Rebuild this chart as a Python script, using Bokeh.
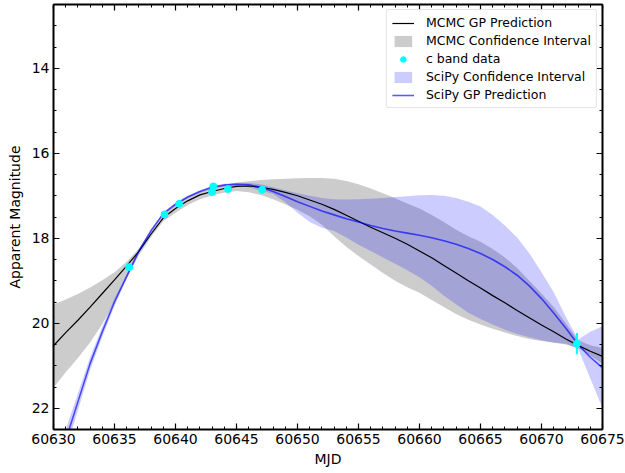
from bokeh.plotting import figure
from bokeh.models import (Range1d, LinearAxis, SingleIntervalTicker, Legend,
                          LegendItem, ColumnDataSource, BasicTickFormatter,
                          CustomJSTickFormatter)
from bokeh.embed import file_html
from bokeh.resources import INLINE

# ---------------- data ----------------
mjd_grid = [60630, 60631, 60632, 60633, 60634, 60635, 60636, 60637, 60638, 60639,
            60640, 60641, 60642, 60643, 60644, 60645, 60646, 60647, 60648, 60649,
            60650, 60651, 60652, 60653, 60654, 60655, 60656, 60657, 60658, 60659,
            60660, 60661, 60662, 60663, 60664, 60665, 60666, 60667, 60668, 60669,
            60670, 60671, 60672, 60673, 60674, 60675]

mcmc_mean = [20.53, 20.22, 19.93, 19.62, 19.30, 18.98, 18.65, 18.31, 17.90, 17.52,
             17.30, 17.12, 16.98, 16.90, 16.83, 16.78, 16.77, 16.80, 16.85, 16.92,
             17.00, 17.10, 17.20, 17.32, 17.46, 17.60, 17.74, 17.87, 18.00, 18.14,
             18.30, 18.46, 18.64, 18.82, 19.00, 19.17, 19.35, 19.52, 19.70, 19.87,
             20.04, 20.20, 20.37, 20.52, 20.66, 20.78]

mcmc_lo = [19.56, 19.44, 19.31, 19.16, 18.99, 18.80, 18.55, 18.24, 17.85, 17.45,
           17.21, 17.03, 16.90, 16.81, 16.74, 16.69, 16.66, 16.63, 16.61, 16.60,
           16.59, 16.58, 16.58, 16.60, 16.65, 16.73, 16.83, 16.94, 17.06, 17.18,
           17.30, 17.45, 17.62, 17.80, 17.95, 18.08, 18.25, 18.45, 18.70, 19.00,
           19.30, 19.62, 20.00, 20.40, 20.52, 20.58]

mcmc_hi = [21.52, 21.15, 20.82, 20.45, 20.02, 19.50, 18.92, 18.40, 17.97, 17.60,
           17.40, 17.22, 17.08, 16.99, 16.93, 16.89, 16.92, 16.98, 17.08, 17.20,
           17.33, 17.48, 17.68, 17.95, 18.20, 18.42, 18.62, 18.82, 19.00, 19.15,
           19.28, 19.45, 19.62, 19.78, 19.92, 20.03, 20.13, 20.22, 20.30, 20.37,
           20.42, 20.46, 20.50, 20.58, 20.76, 20.95]

scipy_mean = [23.30, 22.75, 21.85, 20.95, 20.20, 19.50, 18.90, 18.30, 17.82, 17.42,
              17.20, 17.03, 16.90, 16.80, 16.75, 16.73, 16.74, 16.80, 16.90, 17.02,
              17.14, 17.25, 17.36, 17.45, 17.54, 17.62, 17.70, 17.77, 17.83, 17.88,
              17.93, 17.99, 18.06, 18.14, 18.24, 18.36, 18.50, 18.67, 18.87, 19.12,
              19.42, 19.76, 20.12, 20.50, 20.80, 21.05]

scipy_lo = [23.00, 22.50, 21.65, 20.80, 20.08, 19.41, 18.84, 18.25, 17.78, 17.39,
            17.17, 17.00, 16.87, 16.77, 16.72, 16.70, 16.70, 16.73, 16.80, 16.87,
            16.94, 17.00, 17.05, 17.08, 17.09, 17.08, 17.07, 17.05, 17.03, 17.01,
            16.99, 16.98, 17.00, 17.05, 17.14, 17.25, 17.45, 17.70, 17.98, 18.35,
            18.80, 19.27, 19.85, 20.38, 20.20, 20.07]

scipy_hi = [23.60, 23.00, 22.05, 21.10, 20.32, 19.59, 18.96, 18.35, 17.86, 17.45,
            17.23, 17.06, 16.93, 16.83, 16.78, 16.77, 16.80, 16.88, 16.96, 17.15,
            17.40, 17.62, 17.75, 17.83, 17.98, 18.15, 18.30, 18.45, 18.60, 18.75,
            18.92, 19.12, 19.35, 19.55, 19.75, 19.90, 20.03, 20.15, 20.25, 20.33,
            20.40, 20.45, 20.48, 20.60, 21.30, 22.00]

data_mjd = [60636.2, 60639.1, 60640.3, 60643.0, 60643.1, 60644.3, 60647.1, 60672.9]
data_mag = [18.68, 17.44, 17.19, 16.91, 16.78, 16.84, 16.86, 20.48]
data_err = [0.04, 0.03, 0.03, 0.03, 0.03, 0.03, 0.03, 0.25]

x_label = "MJD"
y_label = "Apparent Magnitude"
labels = ["MCMC GP Prediction", "MCMC Confidence Interval", "c band data",
          "SciPy Confidence Interval", "SciPy GP Prediction"]

# ---------------- figure ----------------
FONT = "DejaVu Sans"

p = figure(width=625, height=473, output_backend="svg", toolbar_location=None,
           x_range=Range1d(60630, 60675), y_range=Range1d(22.5, 12.5),
           min_border_left=53, min_border_right=23, min_border_top=4,
           min_border_bottom=44)
p.grid.visible = False
p.outline_line_color = None
p.background_fill_color = "white"
p.border_fill_color = "white"

curves = ColumnDataSource(dict(x=mjd_grid, m=mcmc_mean, mlo=mcmc_lo, mhi=mcmc_hi,
                               s=scipy_mean, slo=scipy_lo, shi=scipy_hi))
pts = ColumnDataSource(dict(x=data_mjd, y=data_mag,
                            ylo=[m - e for m, e in zip(data_mag, data_err)],
                            yhi=[m + e for m, e in zip(data_mag, data_err)]))

r_mband = p.varea(x="x", y1="mlo", y2="mhi", source=curves,
                  fill_color="gray", fill_alpha=0.4)
r_sband = p.varea(x="x", y1="slo", y2="shi", source=curves,
                  fill_color="blue", fill_alpha=0.2)
r_mline = p.line(x="x", y="m", source=curves, line_color="black", line_width=1.2)
r_sline = p.line(x="x", y="s", source=curves, line_color="blue", line_alpha=0.65,
                 line_width=1.6)
p.segment(x0="x", y0="ylo", x1="x", y1="yhi", source=pts,
          line_color="cyan", line_width=2)
r_pts = p.scatter(x="x", y="y", source=pts, size=7, marker="circle",
                  fill_color="cyan", line_color="cyan")

# ---------------- axes ----------------
def style_axis(ax, show_labels):
    ax.axis_line_width = 2
    ax.axis_line_color = "black"
    ax.major_tick_in = 6
    ax.major_tick_out = 0
    ax.minor_tick_in = 3
    ax.minor_tick_out = 0
    ax.major_tick_line_width = 1.2
    ax.minor_tick_line_width = 1
    ax.major_tick_line_color = "black"
    ax.minor_tick_line_color = "black"
    if show_labels:
        ax.major_label_text_font = FONT
        ax.major_label_text_font_size = "14px"
        ax.major_label_text_color = "black"
        ax.major_label_standoff = 4
        ax.axis_label_text_font = FONT
        ax.axis_label_text_font_size = "14px"
        ax.axis_label_text_font_style = "normal"
        ax.axis_label_text_color = "black"
    else:
        ax.formatter = CustomJSTickFormatter(code="return '';")
        ax.major_label_text_font_size = "1px"
        ax.major_label_standoff = 0
        ax.axis_label = None

xb = p.xaxis[0]
xb.ticker = SingleIntervalTicker(interval=5, num_minor_ticks=5)
xb.formatter = BasicTickFormatter(use_scientific=False)
xb.axis_label = x_label
style_axis(xb, True)
xb.axis_label_standoff = 4

yl = p.yaxis[0]
yl.ticker = SingleIntervalTicker(interval=2, num_minor_ticks=4)
yl.axis_label = y_label
style_axis(yl, True)
yl.axis_label_standoff = 6

xa = LinearAxis(ticker=SingleIntervalTicker(interval=5, num_minor_ticks=5))
style_axis(xa, False)
p.add_layout(xa, "above")
yr = LinearAxis(ticker=SingleIntervalTicker(interval=2, num_minor_ticks=4))
style_axis(yr, False)
p.add_layout(yr, "right")

# ---------------- legend ----------------
legend = Legend(items=[
    LegendItem(label=labels[0], renderers=[r_mline]),
    LegendItem(label=labels[1], renderers=[r_mband]),
    LegendItem(label=labels[2], renderers=[r_pts]),
    LegendItem(label=labels[3], renderers=[r_sband]),
    LegendItem(label=labels[4], renderers=[r_sline]),
], location="top_right")
legend.margin = 5
legend.padding = 5
legend.spacing = 3
legend.glyph_width = 22
legend.glyph_height = 14
legend.label_height = 14
legend.label_standoff = 12
legend.label_text_font = FONT
legend.label_text_font_size = "12.5px"
legend.label_text_color = "black"
legend.border_line_color = "#cccccc"
legend.border_line_width = 1
legend.border_radius = 3
legend.background_fill_color = "white"
legend.background_fill_alpha = 0.8
p.add_layout(legend)

open("out.html", "w").write(file_html(p, INLINE))
